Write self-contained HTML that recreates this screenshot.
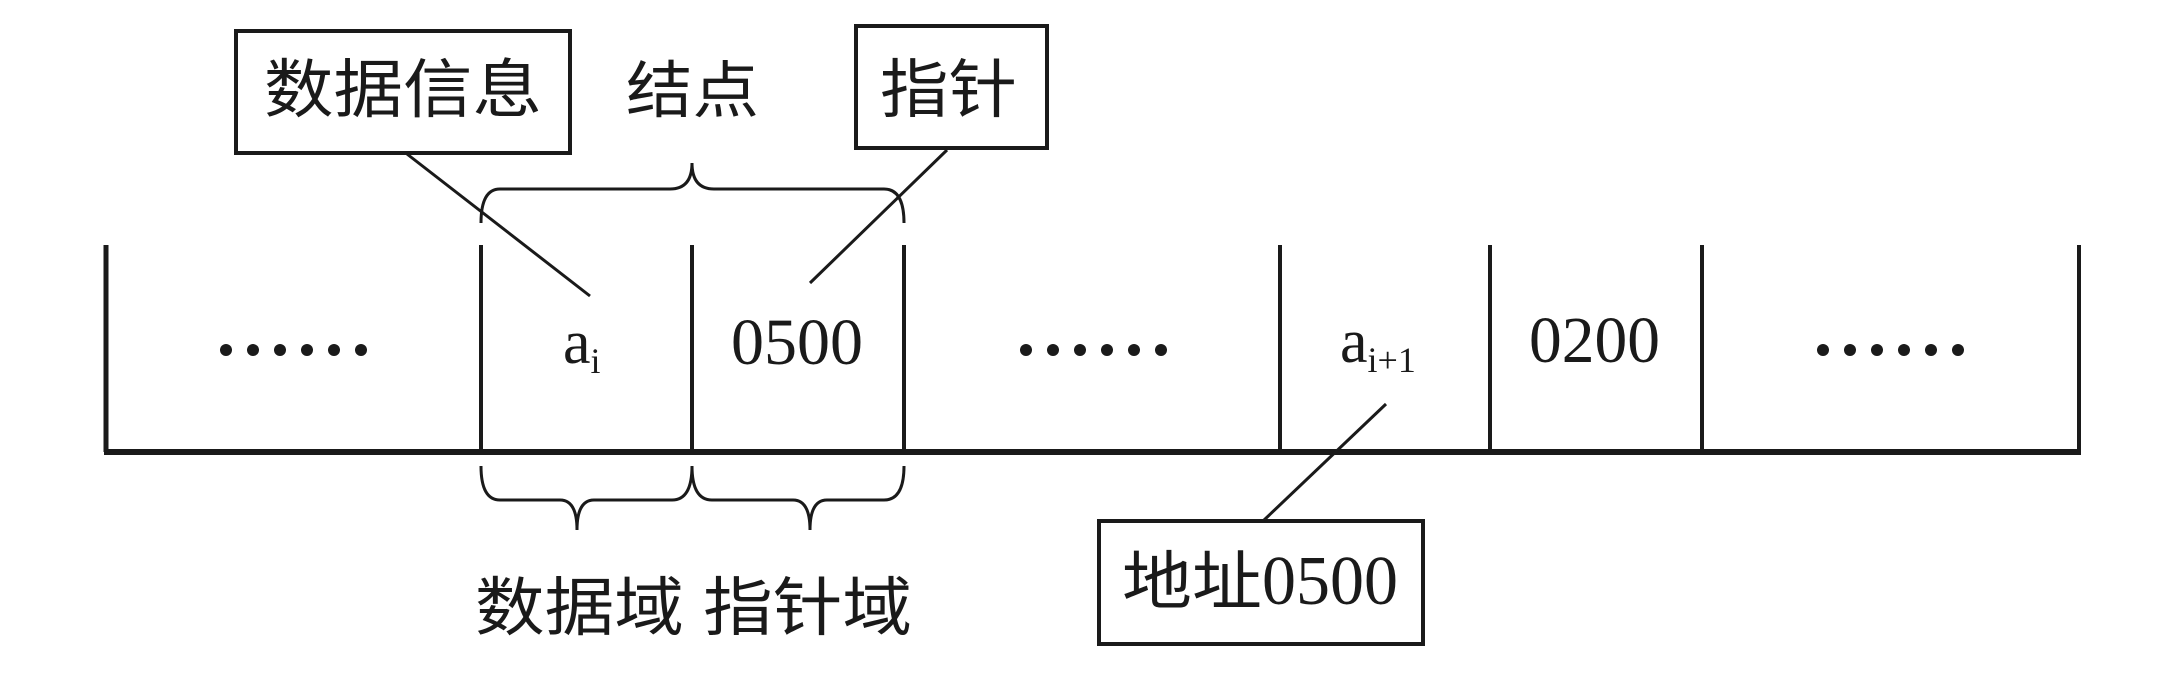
<!DOCTYPE html>
<html><head><meta charset="utf-8"><style>
html,body{margin:0;padding:0;background:#fff;}
svg{display:block;}
text{font-family:"Liberation Serif","Noto Sans CJK SC",serif;fill:#1a1a1a;}
.cj{font-family:"Liberation Sans","Noto Sans CJK SC",sans-serif;}
</style></head><body>
<svg width="2163" height="673" viewBox="0 0 2163 673" xmlns="http://www.w3.org/2000/svg">
<g stroke="#1a1a1a" fill="none" stroke-width="4">
<line x1="104" y1="452" x2="2081" y2="452" stroke-width="6"/>
<line x1="106" y1="245" x2="106" y2="452" stroke-width="5"/>
<line x1="481" y1="245" x2="481" y2="452"/>
<line x1="692" y1="245" x2="692" y2="452"/>
<line x1="904" y1="245" x2="904" y2="452"/>
<line x1="1280" y1="245" x2="1280" y2="452"/>
<line x1="1490" y1="245" x2="1490" y2="452"/>
<line x1="1702" y1="245" x2="1702" y2="452"/>
<line x1="2079" y1="245" x2="2079" y2="452"/>
<rect x="236" y="31" width="334" height="122" stroke-width="4"/>
<rect x="856" y="26" width="191" height="122" stroke-width="4"/>
<rect x="1099" y="521" width="324" height="123" stroke-width="4"/>
<line x1="407" y1="154" x2="590" y2="296" stroke-width="3"/>
<line x1="947" y1="150" x2="810" y2="283" stroke-width="3"/>
<line x1="1386" y1="404" x2="1263" y2="521" stroke-width="3"/>
<g stroke-width="3">
<path d="M481 223 Q481 189 500 189 L670 189 Q692 189 692 163 Q692 189 714 189 L884 189 Q904 189 904 223"/>
<path d="M481 466 Q481 500 500 500 L560 500 Q577 500 577 530 Q577 500 594 500 L672 500 Q692 500 692 466"/>
<path d="M692 466 Q692 500 712 500 L793 500 Q810 500 810 530 Q810 500 827 500 L884 500 Q904 500 904 466"/>
</g>
</g>
<g fill="#1a1a1a">
<circle cx="226" cy="350" r="6"/><circle cx="253" cy="350" r="6"/><circle cx="280" cy="350" r="6"/><circle cx="307" cy="350" r="6"/><circle cx="334" cy="350" r="6"/><circle cx="361" cy="350" r="6"/>
<circle cx="1026" cy="350" r="6"/><circle cx="1053" cy="350" r="6"/><circle cx="1080" cy="350" r="6"/><circle cx="1107" cy="350" r="6"/><circle cx="1134" cy="350" r="6"/><circle cx="1161" cy="350" r="6"/>
<circle cx="1823" cy="350" r="6"/><circle cx="1850" cy="350" r="6"/><circle cx="1877" cy="350" r="6"/><circle cx="1904" cy="350" r="6"/><circle cx="1931" cy="350" r="6"/><circle cx="1958" cy="350" r="6"/>
</g>
<text class="cj" x="264" y="112" font-size="64" textLength="278" lengthAdjust="spacingAndGlyphs">数据信息</text>
<text class="cj" x="626" y="112" font-size="62" textLength="133" lengthAdjust="spacingAndGlyphs">结点</text>
<text class="cj" x="880" y="112" font-size="64" textLength="137" lengthAdjust="spacingAndGlyphs">指针</text>
<text class="cj" x="475" y="630" font-size="64" textLength="437" lengthAdjust="spacingAndGlyphs">数据域 指针域</text>
<text class="cj" x="1122" y="604" font-size="64" textLength="140" lengthAdjust="spacingAndGlyphs">地址</text>
<text x="1262" y="604" font-size="70" textLength="136" lengthAdjust="spacingAndGlyphs">0500</text>
<text x="563" y="363" font-size="62">a<tspan font-size="36" dy="10">i</tspan></text>
<text x="731" y="364" font-size="66" textLength="132" lengthAdjust="spacingAndGlyphs">0500</text>
<text x="1340" y="362" font-size="62">a<tspan font-size="36" dy="10">i+1</tspan></text>
<text x="1529" y="362" font-size="66" textLength="131" lengthAdjust="spacingAndGlyphs">0200</text>
</svg>
</body></html>
